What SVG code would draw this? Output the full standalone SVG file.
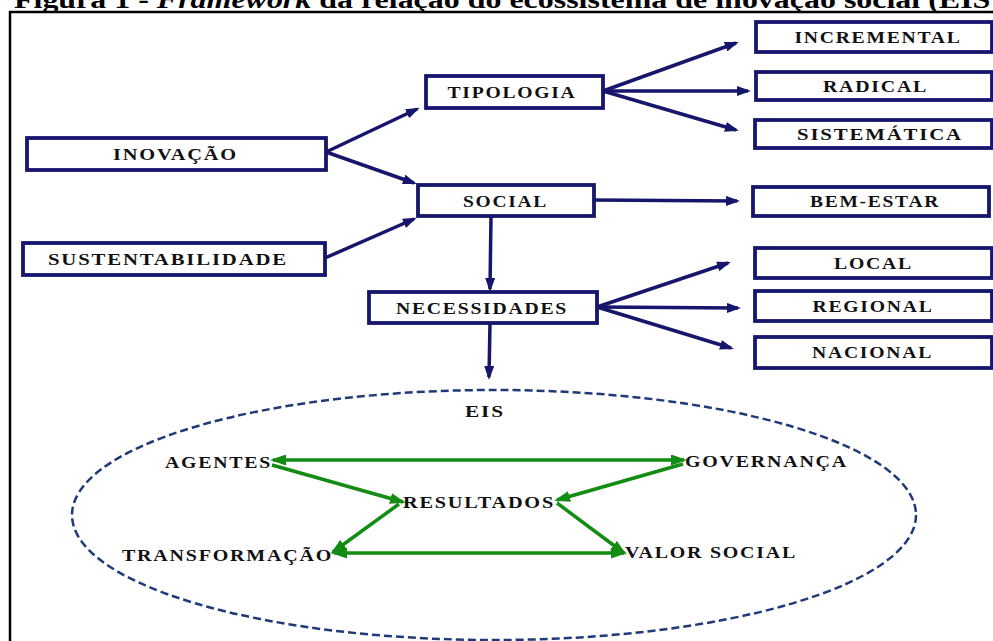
<svg xmlns="http://www.w3.org/2000/svg" width="993" height="641" viewBox="0 0 993 641">
<defs>
<style>
.box rect{fill:#fff;stroke:#16166c;stroke-width:3.8}
.box text,.lbl{font-family:"Liberation Serif","Times New Roman",serif;font-weight:bold;font-size:17px;letter-spacing:1.5px;fill:#111;text-anchor:middle}
.lbl{text-anchor:start}
.nv{stroke:#16166c;stroke-width:3.5;fill:none;marker-end:url(#an)}
.gr{stroke:#128c12;stroke-width:3.5;fill:none;marker-end:url(#ag)}
.gr2{marker-start:url(#ag)}
</style>
<marker id="an" viewBox="0 0 14 10" refX="11" refY="5" markerWidth="14" markerHeight="10" markerUnits="userSpaceOnUse" orient="auto-start-reverse"><path d="M0,0 L14,5 L0,10 z" fill="#16166c"/></marker>
<marker id="ag" viewBox="0 0 16 11" refX="13" refY="5.5" markerWidth="16" markerHeight="11" markerUnits="userSpaceOnUse" orient="auto-start-reverse"><path d="M0,0 L16,5.5 L0,11 z" fill="#128c12"/></marker>
</defs>
<rect width="993" height="641" fill="#fff"/>
<text x="14" y="8" font-family="Liberation Serif,'Times New Roman',serif" font-weight="bold" font-size="25" fill="#000" textLength="987" lengthAdjust="spacingAndGlyphs">Figura 1 - <tspan font-style="italic">Framework</tspan> da relação do ecossistema de inovação social (EIS)</text>
<path d="M10,641 V12 H993" fill="none" stroke="#000" stroke-width="2.5"/>

<g id="connectors">
<line class="nv" x1="326" y1="152" x2="417" y2="109"/>
<line class="nv" x1="326" y1="152" x2="414" y2="183"/>
<line class="nv" x1="325" y1="258" x2="414" y2="219"/>
<line class="nv" x1="603" y1="91" x2="736" y2="43"/>
<line class="nv" x1="603" y1="91" x2="748" y2="91"/>
<line class="nv" x1="603" y1="91" x2="736" y2="130"/>
<line class="nv" x1="594" y1="200" x2="737" y2="201"/>
<line class="nv" x1="491" y1="216" x2="490" y2="289"/>
<line class="nv" x1="597" y1="307" x2="728" y2="263"/>
<line class="nv" x1="597" y1="307" x2="738" y2="308"/>
<line class="nv" x1="597" y1="307" x2="731" y2="348"/>
<line class="nv" x1="490" y1="323" x2="489" y2="377"/>
<line class="gr gr2" x1="273" y1="460" x2="684" y2="460"/>
<line class="gr" x1="272" y1="465" x2="403" y2="502"/>
<line class="gr" x1="683" y1="464" x2="557" y2="500"/>
<line class="gr" x1="399" y1="504" x2="333" y2="552"/>
<line class="gr" x1="557" y1="503" x2="624" y2="553"/>
<line class="gr gr2" x1="334" y1="553" x2="624" y2="553"/>
</g>

<g id="inovacao" class="box"><rect x="27" y="138" width="299" height="32"/><text x="175.5" y="160" textLength="125" lengthAdjust="spacingAndGlyphs">INOVAÇÃO</text></g>
<g id="sustentabilidade" class="box"><rect x="23" y="243" width="302" height="32"/><text x="168" y="265" textLength="240" lengthAdjust="spacingAndGlyphs">SUSTENTABILIDADE</text></g>
<g id="tipologia" class="box"><rect x="426" y="76" width="177" height="32"/><text x="512" y="98" textLength="129" lengthAdjust="spacingAndGlyphs">TIPOLOGIA</text></g>
<g id="social" class="box"><rect x="418" y="185" width="176" height="31"/><text x="505.5" y="207" textLength="85" lengthAdjust="spacingAndGlyphs">SOCIAL</text></g>
<g id="necessidades" class="box"><rect x="369" y="292" width="228" height="31"/><text x="482" y="314" textLength="172" lengthAdjust="spacingAndGlyphs">NECESSIDADES</text></g>
<g id="incremental" class="box"><rect x="756" y="22" width="236" height="30"/><text x="878" y="43" textLength="167" lengthAdjust="spacingAndGlyphs">INCREMENTAL</text></g>
<g id="radical" class="box"><rect x="756" y="72" width="236" height="28"/><text x="875.5" y="92" textLength="105" lengthAdjust="spacingAndGlyphs">RADICAL</text></g>
<g id="sistematica" class="box"><rect x="755" y="120" width="237" height="28"/><text x="880" y="140" textLength="166" lengthAdjust="spacingAndGlyphs">SISTEMÁTICA</text></g>
<g id="bem-estar" class="box"><rect x="753" y="187" width="236" height="29"/><text x="875" y="207" textLength="130" lengthAdjust="spacingAndGlyphs">BEM-ESTAR</text></g>
<g id="local" class="box"><rect x="755" y="248" width="237" height="30"/><text x="873.5" y="269" textLength="79" lengthAdjust="spacingAndGlyphs">LOCAL</text></g>
<g id="regional" class="box"><rect x="755" y="291" width="237" height="30"/><text x="873" y="312" textLength="121" lengthAdjust="spacingAndGlyphs">REGIONAL</text></g>
<g id="nacional" class="box"><rect x="755" y="337" width="237" height="31"/><text x="872.5" y="358" textLength="121" lengthAdjust="spacingAndGlyphs">NACIONAL</text></g>

<g id="eis">
<ellipse cx="494" cy="515" rx="422" ry="125" fill="none" stroke="#1f3a78" stroke-width="2.5" stroke-dasharray="8 4"/>
<text class="lbl" x="465" y="417" textLength="40" lengthAdjust="spacingAndGlyphs">EIS</text>
</g>
<g id="agentes"><text class="lbl" x="165" y="468" textLength="107" lengthAdjust="spacingAndGlyphs">AGENTES</text></g>
<g id="governanca"><text class="lbl" x="685" y="467" textLength="163" lengthAdjust="spacingAndGlyphs">GOVERNANÇA</text></g>
<g id="resultados"><text class="lbl" x="403" y="508" textLength="152" lengthAdjust="spacingAndGlyphs">RESULTADOS</text></g>
<g id="transformacao"><text class="lbl" x="122" y="561" textLength="211" lengthAdjust="spacingAndGlyphs">TRANSFORMAÇÃO</text></g>
<g id="valor-social"><text class="lbl" x="625" y="558" textLength="172" lengthAdjust="spacingAndGlyphs">VALOR SOCIAL</text></g>
</svg>
